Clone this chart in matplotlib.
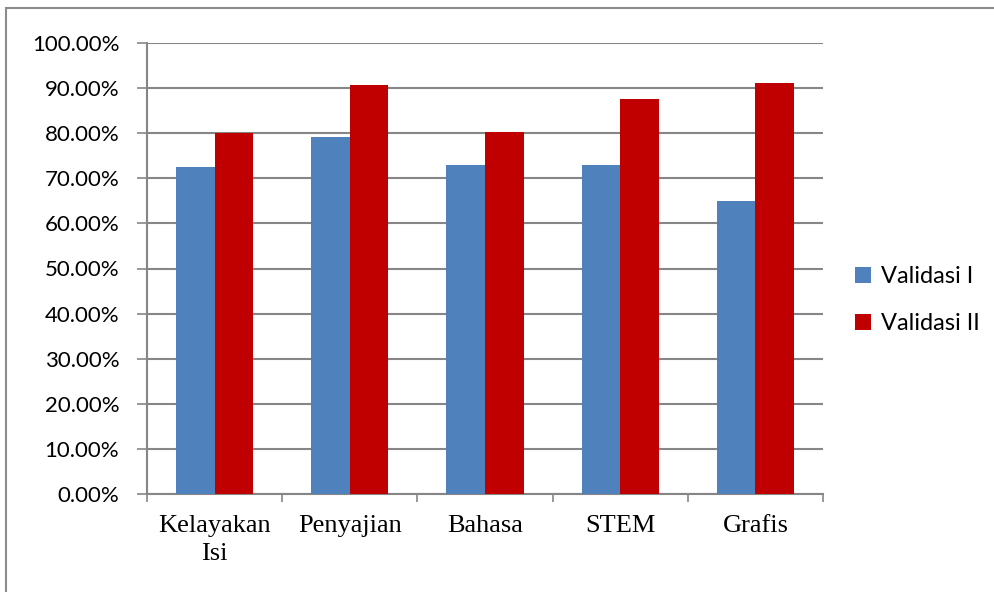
import matplotlib
matplotlib.use("Agg")
import matplotlib.pyplot as plt
import numpy as np
from matplotlib.patches import Rectangle

categories = ["Kelayakan\nIsi", "Penyajian", "Bahasa", "STEM", "Grafis"]
validasi_1 = [72.5, 79.2, 72.9, 72.9, 65.0]
validasi_2 = [80.0, 90.6, 80.2, 87.5, 91.2]
series_names = ["Validasi I", "Validasi II"]
y_ticks = [0, 10, 20, 30, 40, 50, 60, 70, 80, 90, 100]

blue = "#4F81BD"
red = "#C00000"
grid_c = "#868686"

fig = plt.figure(figsize=(9.95, 5.92), dpi=100)
ax = fig.add_axes([147/995, (592-494)/592, (823-147)/995, (494-43)/592])

x = np.arange(len(categories))
w = 1/3.5
ax.bar(x - w/2, validasi_1, width=w, color=blue, label=series_names[0], zorder=3)
ax.bar(x + w/2, validasi_2, width=w, color=red, label=series_names[1], zorder=3)

ax.set_xlim(-0.5, len(categories) - 0.5)
ax.set_ylim(0, 100)
ax.set_yticks(y_ticks)
ax.set_yticklabels([f"{v:.2f}%" for v in y_ticks], fontsize=16, family=["Lato", "DejaVu Sans"])
ax.yaxis.grid(True, color=grid_c, linewidth=1.5, zorder=0)
ax.set_axisbelow(True)

ax.set_xticks(np.arange(len(categories) + 1) - 0.5)
ax.set_xticklabels([])
ax.set_xticks(x, minor=True)
ax.set_xticklabels(categories, minor=True, fontsize=19, family="Liberation Serif", linespacing=1.35)
ax.tick_params(axis="x", which="minor", length=0, pad=15)
ax.tick_params(axis="x", which="major", length=6, color=grid_c, width=1.2)
ax.tick_params(axis="y", length=7, color=grid_c, width=1.2, pad=13)

for s in ["top", "right"]:
    ax.spines[s].set_visible(False)
for s in ["left", "bottom"]:
    ax.spines[s].set_color(grid_c)
    ax.spines[s].set_linewidth(1.5)

leg = fig.legend(loc="center left", bbox_to_anchor=(834/995, 1 - 300/592), frameon=False,
                 handlelength=0.65, handleheight=0.65, handletextpad=0.45,
                 labelspacing=1.1, prop={"family": "Lato", "size": 17})

fig.patches.append(Rectangle((6/995, -0.05), 1.1, 0.05 + (592-8)/592, transform=fig.transFigure,
                             fill=False, edgecolor="#8c8c8c", linewidth=1.5))

fig.savefig("out.png", dpi=100)
